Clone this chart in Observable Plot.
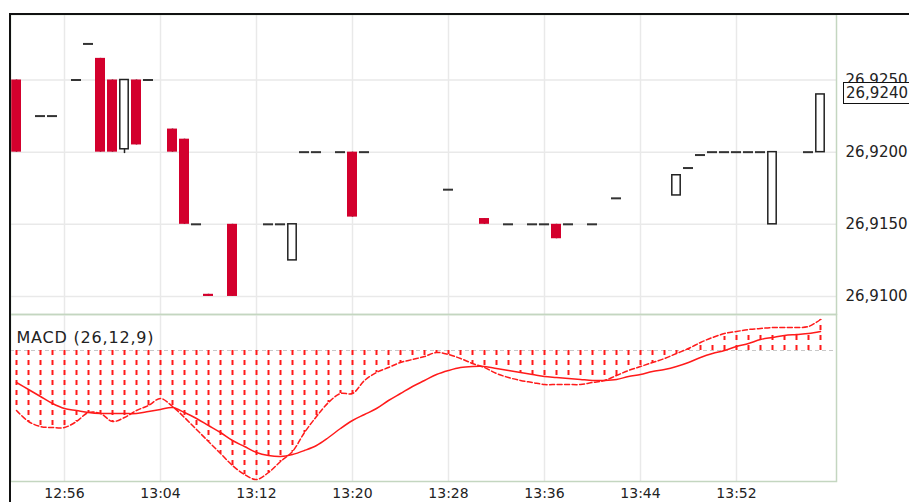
<!DOCTYPE html>
<html><head><meta charset="utf-8">
<script src="https://cdn.jsdelivr.net/npm/d3@7"></script>
<script src="https://cdn.jsdelivr.net/npm/@observablehq/plot@0.6"></script>
<style>
html,body{margin:0;padding:0;background:#fff;}
#chart{position:relative;width:909px;height:502px;overflow:hidden;font-family:"DejaVu Sans",sans-serif;}
#chart svg{position:absolute;left:0;overflow:visible;}
.frame-top{position:absolute;left:9px;top:13px;width:900px;height:2px;background:#111;}
.frame-left{position:absolute;left:9px;top:13px;width:2px;height:489px;background:#111;}
#last{position:absolute;left:843px;width:80px;height:20px;border:1.5px solid #111;background:#fff;
  font-family:"DejaVu Sans",sans-serif;font-size:15px;line-height:20px;padding-left:2px;color:#222;box-sizing:content-box;}
</style></head>
<body><div id="chart"></div>
<script>
// ---- price candles (1-minute) ----
const priceTimes = ["12:52","12:54","12:55","12:57","12:58","12:59","13:00","13:01","13:02","13:03",
  "13:05","13:06","13:07","13:08","13:10","13:13","13:14","13:15","13:16","13:17",
  "13:19","13:20","13:21","13:28","13:31","13:33","13:35","13:36","13:37","13:38",
  "13:40","13:42","13:47","13:48","13:49","13:50","13:51","13:52","13:53","13:54",
  "13:55","13:58","13:59"];
const openPrices = [26.925,26.9225,26.9225,26.925,26.9275,26.9265,26.925,26.9202,26.925,26.925,
  26.9216,26.9209,26.915,26.91015,26.915,26.915,26.915,26.9125,26.920,26.920,
  26.920,26.920,26.920,26.9174,26.9154,26.915,26.915,26.915,26.915,26.915,
  26.915,26.9168,26.917,26.9189,26.9198,26.920,26.920,26.920,26.920,26.920,
  26.915,26.920,26.920];
const highPrices = [26.925,26.9225,26.9225,26.925,26.9275,26.9265,26.925,26.925,26.925,26.925,
  26.9216,26.9209,26.915,26.91015,26.915,26.915,26.915,26.915,26.920,26.920,
  26.920,26.920,26.920,26.9174,26.9154,26.915,26.915,26.915,26.915,26.915,
  26.915,26.9168,26.9184,26.9189,26.9198,26.920,26.920,26.920,26.920,26.920,
  26.920,26.920,26.924];
const lowPrices = [26.920,26.9225,26.9225,26.925,26.9275,26.920,26.920,26.9199,26.9205,26.925,
  26.920,26.915,26.915,26.910,26.910,26.915,26.915,26.9125,26.920,26.920,
  26.920,26.9155,26.920,26.9174,26.915,26.915,26.915,26.915,26.914,26.915,
  26.915,26.9168,26.917,26.9189,26.9198,26.920,26.920,26.920,26.920,26.920,
  26.915,26.920,26.920];
const closePrices = [26.920,26.9225,26.9225,26.925,26.9275,26.920,26.920,26.925,26.9205,26.925,
  26.920,26.915,26.915,26.910,26.910,26.915,26.915,26.915,26.920,26.920,
  26.920,26.9155,26.920,26.9174,26.915,26.915,26.915,26.915,26.914,26.915,
  26.915,26.9168,26.9184,26.9189,26.9198,26.920,26.920,26.920,26.920,26.920,
  26.920,26.920,26.924];
const priceTicks = [26.910, 26.915, 26.920, 26.925];
const timeTickLabels = ["12:56","13:04","13:12","13:20","13:28","13:36","13:44","13:52"];

// ---- MACD (one value per minute from 12:52 to 13:59) ----
const macdTitle = "MACD (26,12,9)";
const macdStart = "12:52";
const macdLine = [-0.00120,-0.00142,-0.00152,-0.00154,-0.00154,-0.00142,-0.00124,-0.00126,-0.00142,-0.00134,
  -0.00120,-0.00110,-0.00096,-0.00112,-0.00134,-0.00158,-0.00182,-0.00206,-0.00230,-0.00248,
  -0.00258,-0.00244,-0.00222,-0.00202,-0.00164,-0.00132,-0.00104,-0.00086,-0.00086,-0.00060,
  -0.00044,-0.00034,-0.00024,-0.00018,-0.00012,-0.00004,-0.00008,-0.00016,-0.00026,-0.00034,
  -0.00046,-0.00054,-0.00060,-0.00064,-0.00068,-0.00068,-0.00068,-0.00068,-0.00064,-0.00060,
  -0.00050,-0.00040,-0.00032,-0.00024,-0.00016,-0.00006,0.00004,0.00016,0.00026,0.00034,
  0.00038,0.00042,0.00044,0.00046,0.00046,0.00046,0.00048,0.00062];
const signalLine = [-0.00064,-0.00078,-0.00092,-0.00106,-0.00116,-0.00120,-0.00124,-0.00126,-0.00126,-0.00126,
  -0.00126,-0.00122,-0.00118,-0.00114,-0.00124,-0.00136,-0.00150,-0.00164,-0.00180,-0.00192,
  -0.00204,-0.00210,-0.00212,-0.00208,-0.00200,-0.00190,-0.00174,-0.00156,-0.00140,-0.00128,
  -0.00116,-0.00100,-0.00086,-0.00072,-0.00060,-0.00048,-0.00040,-0.00034,-0.00032,-0.00032,
  -0.00036,-0.00040,-0.00044,-0.00048,-0.00052,-0.00054,-0.00056,-0.00058,-0.00060,-0.00060,
  -0.00058,-0.00052,-0.00048,-0.00042,-0.00038,-0.00032,-0.00024,-0.00014,-0.00006,0.00000,
  0.00008,0.00014,0.00022,0.00026,0.00030,0.00032,0.00034,0.00038];
const macdHist = [-0.00120,-0.00142,-0.00152,-0.00154,-0.00154,-0.00142,-0.00124,-0.00126,-0.00142,-0.00134,
  -0.00120,-0.00110,-0.00096,-0.00112,-0.00134,-0.00158,-0.00182,-0.00206,-0.00230,-0.00248,
  -0.00258,-0.00244,-0.00222,-0.00202,-0.00164,-0.00132,-0.00104,-0.00086,-0.00086,-0.00060,
  -0.00044,-0.00034,-0.00024,-0.00018,-0.00012,-0.00004,-0.00008,-0.00016,-0.00026,-0.00032,
  -0.00036,-0.00040,-0.00044,-0.00048,-0.00052,-0.00054,-0.00056,-0.00058,-0.00060,-0.00060,
  -0.00050,-0.00040,-0.00032,-0.00024,-0.00016,-0.00006,0.00004,0.00010,0.00020,0.00028,
  0.00030,0.00032,0.00032,0.00032,0.00032,0.00034,0.00034,0.00062];

// visible window of the time axis
const xStart = "12:51:30", xEnd = "14:00:20";

const toDate = s => { const [h, m, sec = 0] = s.split(":").map(Number); return new Date(Date.UTC(2000, 0, 1, h, m, sec)); };
const candles = priceTimes.map((t, i) => ({t: toDate(t), open: openPrices[i], high: highPrices[i], low: lowPrices[i], close: closePrices[i]}));
const down = candles.filter(d => d.close < d.open);
const up = candles.filter(d => d.close > d.open);
const flat = candles.filter(d => d.close === d.open);
const t0 = toDate(macdStart);
const macd = macdLine.map((v, i) => ({t: new Date(+t0 + i * 60e3), macd: v, signal: signalLine[i], hist: macdHist[i]}));
const xDomain = [toDate(xStart), toDate(xEnd)];
const tickDates = timeTickLabels.map(toDate);
const fmtPrice = d => d.toFixed(4).replace(".", ",");
const off = (ms) => d => new Date(+d.t + ms);

const RED = "#d3002d", GRID = "#e9e9e9", FRAME = "#c4d6c0", LINE = "#ff1a1a";

const p1 = Plot.plot({
  width: 909, height: 314, marginTop: 14, marginBottom: 0, marginLeft: 10, marginRight: 73,
  style: {fontFamily: "DejaVu Sans", fontSize: "15px", color: "#222", background: "transparent", overflow: "visible"},
  x: {type: "utc", domain: xDomain, axis: null},
  y: {domain: [26.90875, 26.92954], axis: "right", ticks: priceTicks, tickFormat: fmtPrice, tickSize: 0, tickPadding: 9, label: null},
  marks: [
    Plot.ruleY(priceTicks, {stroke: GRID, strokeWidth: 1.5}),
    Plot.ruleX(tickDates, {stroke: GRID, strokeWidth: 1.5}),
    Plot.ruleX(candles, {x: "t", y1: "low", y2: "high", stroke: "#222", strokeWidth: 1.5}),
    Plot.rect(down, {x1: off(-25e3), x2: off(25e3), y1: "open", y2: "close", fill: RED}),
    Plot.rect(up, {x1: off(-21e3), x2: off(21e3), y1: "open", y2: "close", fill: "white", stroke: "#222", strokeWidth: 1.5}),
    Plot.ruleY(flat, {x1: off(-25e3), x2: off(25e3), y: "close", stroke: "#333", strokeWidth: 2}),
    Plot.frame({stroke: FRAME, strokeWidth: 1.5})
  ]
});

const p2 = Plot.plot({
  width: 909, height: 188, marginTop: 0, marginBottom: 21, marginLeft: 10, marginRight: 73,
  style: {fontFamily: "DejaVu Sans", fontSize: "14px", color: "#222", background: "transparent", overflow: "visible"},
  x: {type: "utc", domain: xDomain, ticks: tickDates, tickFormat: d3.utcFormat("%H:%M"), tickSize: 0, tickPadding: 7, label: null},
  y: {domain: [-0.00262, 0.00072], axis: null},
  marks: [
    Plot.ruleX(tickDates, {stroke: GRID, strokeWidth: 1.5}),
    Plot.ruleY([0], {stroke: "#c8c8c8", strokeDasharray: "4,3"}),
    Plot.ruleX(macd, {x: "t", y1: 0, y2: "hist", stroke: LINE, strokeWidth: 2, strokeDasharray: "5,5"}),
    Plot.line(macd, {x: "t", y: "signal", stroke: LINE, strokeWidth: 1.5, curve: "catmull-rom"}),
    Plot.line(macd, {x: "t", y: "macd", stroke: LINE, strokeWidth: 1.5, strokeDasharray: "5,2.5", curve: "catmull-rom"}),
    Plot.text([macdTitle], {text: d => d, frameAnchor: "top-left", dx: 6, dy: 17, textAnchor: "start", lineAnchor: "top", fontSize: 16, fill: "#222"}),
    Plot.frame({stroke: FRAME, strokeWidth: 1.5})
  ]
});

const chart = document.getElementById("chart");
p1.style.top = "0px";
p2.style.top = "314px";
chart.appendChild(p1);
chart.appendChild(p2);
// slightly wider tracking for the panel title, as in the reference
d3.select(p2).selectAll("text").filter(function () { return this.textContent === macdTitle; })
  .style("letter-spacing", "0.8px");

// last-price box on the price axis
const lastClose = closePrices[closePrices.length - 1];
const yLast = p1.scale("y").apply(lastClose);
const box = document.createElement("div");
box.id = "last";
box.textContent = fmtPrice(lastClose);
box.style.top = (yLast - 11.5) + "px";
chart.appendChild(box);

const ft = document.createElement("div"); ft.className = "frame-top"; chart.appendChild(ft);
const fl = document.createElement("div"); fl.className = "frame-left"; chart.appendChild(fl);
</script>
</body></html>
